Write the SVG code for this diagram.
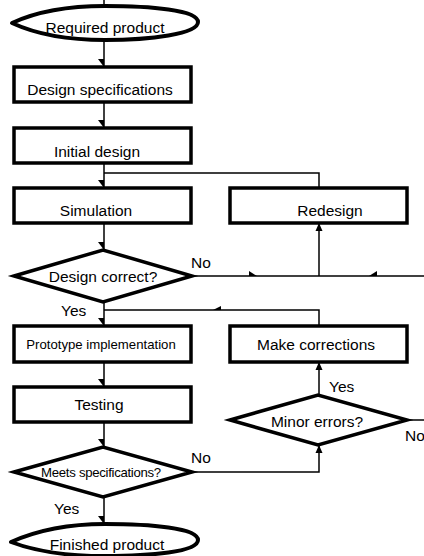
<svg xmlns="http://www.w3.org/2000/svg" width="424" height="556" viewBox="0 0 424 556">
<style>
.box{fill:#fff;stroke:#000;stroke-width:3.5}
.term{fill:#fff;stroke:#000;stroke-width:4;stroke-linejoin:round}
.t{font-family:"Liberation Sans",Arial,sans-serif;font-size:15.5px;fill:#000;text-anchor:middle}
.s{font-size:13.2px}
.lbl{font-family:"Liberation Sans",Arial,sans-serif;font-size:15.5px;fill:#000}
.c{fill:none;stroke:#000;stroke-width:1.5}
.dn{marker-end:url(#half)}
.up{marker-end:url(#full)}
</style>
<defs>
<marker id="half" markerUnits="userSpaceOnUse" markerWidth="12" markerHeight="12" viewBox="-1 -2 12 12" refX="8" refY="0" orient="auto" overflow="visible">
<path d="M0,0 L8,0 L0,6 z" fill="#000"/>
</marker>
<marker id="full" markerUnits="userSpaceOnUse" markerWidth="12" markerHeight="12" viewBox="-1 -6 12 12" refX="8" refY="0" orient="auto" overflow="visible">
<path d="M0,-3.5 L8,0 L0,3.5 z" fill="#000"/>
</marker>
</defs>
<g id="connectors">
<line class="c" x1="104" y1="0" x2="104" y2="6"/>
<line class="c dn" x1="104" y1="40" x2="104" y2="67"/>
<line class="c dn" x1="104" y1="102" x2="104" y2="128"/>
<line class="c dn" x1="104" y1="163" x2="104" y2="188"/>
<polyline class="c" points="319,188 319,173 104,173"/>
<line class="c dn" x1="104" y1="223" x2="104" y2="250"/>
<line class="c" x1="192" y1="276" x2="424" y2="276"/>
<polygon points="249,271 257,276 249,276" fill="#000"/>
<polygon points="377,271 369,276 377,276" fill="#000"/>
<line class="c up" x1="319" y1="276" x2="319" y2="223"/>
<line class="c dn" x1="104" y1="302" x2="104" y2="326"/>
<polyline class="c" points="319,326 319,310 104,310"/>
<polygon points="213,310 221,306 221,310" fill="#000"/>
<line class="c dn" x1="104" y1="362" x2="104" y2="387"/>
<line class="c dn" x1="104" y1="422" x2="104" y2="447"/>
<line class="c up" x1="319" y1="395" x2="319" y2="362"/>
<line class="c" x1="407" y1="420" x2="424" y2="420"/>
<polyline class="c up" points="192,472 319,472 319,445"/>
<line class="c dn" x1="104" y1="497" x2="104" y2="524"/>
<text class="lbl" x="191" y="268">No</text>
<text class="lbl" x="61" y="316">Yes</text>
<text class="lbl" x="329" y="392">Yes</text>
<text class="lbl" x="405" y="441">No</text>
<text class="lbl" x="191" y="463">No</text>
<text class="lbl" x="54" y="514">Yes</text>
</g>
<g id="required">
<path class="term" d="M12,23 C40,10 75,6 105,6 C150,6 198,10 198,22 C198,34 150,40 105,40 C75,40 40,36 12,23 Z"/>
<text class="t" x="105" y="33">Required product</text>
</g>
<g id="design-spec">
<rect class="box" x="14" y="67" width="177" height="35"/>
<text class="t" x="100" y="95">Design specifications</text>
</g>
<g id="initial-design">
<rect class="box" x="14" y="128" width="177" height="35"/>
<text class="t" x="97" y="157">Initial design</text>
</g>
<g id="simulation">
<rect class="box" x="14" y="188" width="177" height="35"/>
<text class="t" x="96" y="216">Simulation</text>
</g>
<g id="redesign">
<rect class="box" x="230" y="188" width="177" height="35"/>
<text class="t" x="330" y="216">Redesign</text>
</g>
<g id="design-correct">
<polygon class="box" points="14,276 103,250 192,276 103,302"/>
<text class="t" x="103" y="282">Design correct?</text>
</g>
<g id="prototype">
<rect class="box" x="14" y="326" width="177" height="36"/>
<text class="t s" x="101" y="349">Prototype implementation</text>
</g>
<g id="make-corrections">
<rect class="box" x="230" y="326" width="177" height="36"/>
<text class="t" x="316" y="350">Make corrections</text>
</g>
<g id="testing">
<rect class="box" x="14" y="387" width="177" height="35"/>
<text class="t" x="99" y="410">Testing</text>
</g>
<g id="minor-errors">
<polygon class="box" points="230,420 318,395 407,420 318,445"/>
<text class="t" x="317" y="427">Minor errors?</text>
</g>
<g id="meets-spec">
<polygon class="box" points="14,472 103,447 192,472 103,497"/>
<text class="t s" x="101" y="477" letter-spacing="-0.3">Meets specifications?</text>
</g>
<g id="finished">
<path class="term" d="M11,542 C40,529 75,524 105,524 C150,524 198,528 198,540 C198,552 150,556 105,556 C75,556 40,553 11,542 Z"/>
<text class="t" x="107" y="550">Finished product</text>
</g>
</svg>
